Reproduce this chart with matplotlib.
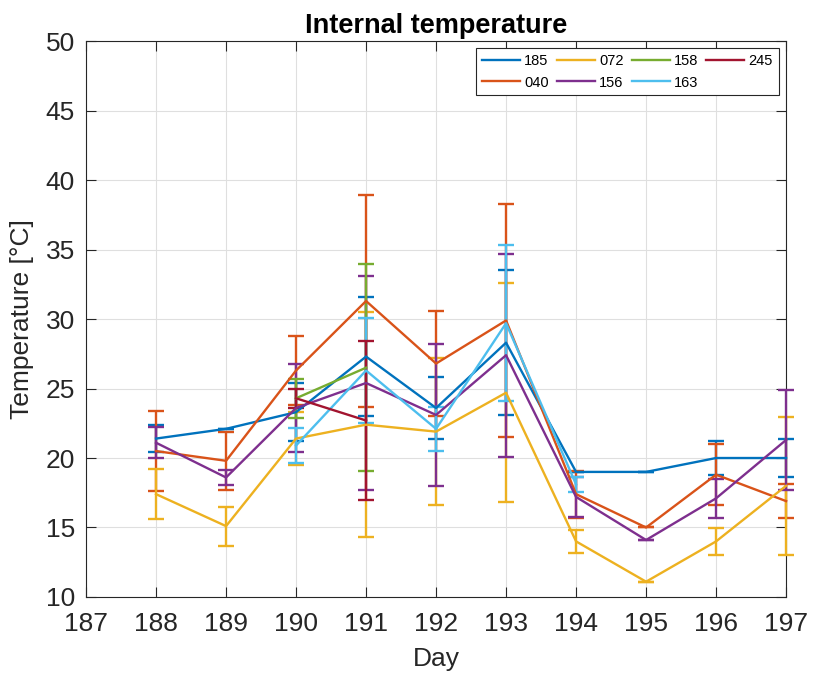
import numpy as np
import matplotlib
matplotlib.use("Agg")
import matplotlib.pyplot as plt
from matplotlib.lines import Line2D

nan = np.nan

# days and sensor series (mean and error half-width)
days = [188, 189, 190, 191, 192, 193, 194, 195, 196, 197]

t185 = [21.4, 22.1, 23.3, 27.3, 23.6, 28.3, 19.0, 19.0, 20.0, 20.0]
e185 = [0.95, 0.0, 2.1, 4.3, 2.2, 5.2, 0.0, 0.0, 1.2, 1.4]

t040 = [20.5, 19.8, 26.3, 31.3, 26.8, 29.9, 17.4, 15.0, 18.8, 16.9]
e040 = [2.9, 2.1, 2.5, 7.6, 3.8, 8.4, 1.7, 0.0, 2.2, 1.2]

t072 = [17.4, 15.1, 21.4, 22.4, 21.9, 24.7, 14.0, 11.1, 14.0, 18.0]
e072 = [1.8, 1.4, 1.9, 8.1, 5.3, 7.9, 0.85, 0.0, 0.95, 4.95]

t156 = [21.1, 18.6, 23.6, 25.4, 23.1, 27.4, 17.2, 14.1, 17.1, 21.3]
e156 = [1.1, 0.55, 3.2, 7.7, 5.1, 7.3, 1.45, 0.0, 1.4, 3.6]

t158 = [nan, nan, 24.3, 26.5, nan, nan, nan, nan, nan, nan]
e158 = [nan, nan, 1.4, 7.45, nan, nan, nan, nan, nan, nan]

t163 = [nan, nan, 20.9, 26.3, 22.1, 29.7, 18.1, nan, nan, nan]
e163 = [nan, nan, 1.25, 3.8, 1.6, 5.6, 0.55, nan, nan, nan]

t245 = [nan, nan, 24.3, 22.7, nan, nan, nan, nan, nan, nan]
e245 = [nan, nan, 0.7, 5.7, nan, nan, nan, nan, nan, nan]

series = [
    ("185", t185, e185, "#0072BD"),
    ("040", t040, e040, "#D95319"),
    ("072", t072, e072, "#EDB120"),
    ("156", t156, e156, "#7E2F8E"),
    ("158", t158, e158, "#77AC30"),
    ("163", t163, e163, "#4DBEEE"),
    ("245", t245, e245, "#A2142F"),
]

plt.rcParams['font.family'] = ['Liberation Sans', 'DejaVu Sans']

fig = plt.figure(figsize=(8.14, 6.75), dpi=100)
ax = fig.add_axes([0.1057, 0.1156, 0.86, 0.8234])

handles = []
for name, t, e, c in series:
    line, caps, bars = ax.errorbar(days, t, yerr=e, color=c, lw=1.7,
                                   elinewidth=1.7, capsize=6, capthick=1.7,
                                   zorder=3)
    for a in [line, *caps, *bars]:
        a.set_clip_on(False)
    handles.append(Line2D([], [], color=c, lw=1.7, label=name))

ax.set_xlim(187, 197)
ax.set_ylim(10, 50)
ax.set_xticks(range(187, 198))
ax.set_yticks(range(10, 51, 5))
ax.grid(True, color="#dfdfdf", lw=0.8)
ax.set_axisbelow(True)
ax.tick_params(direction="in", length=7, width=0.8, colors="#262626",
               labelsize=19, top=True, right=True)
ax.tick_params(axis="x", pad=11)
ax.tick_params(axis="y", pad=8)
for s in ax.spines.values():
    s.set_color("#262626")
    s.set_linewidth(0.8)

ax.set_xlabel("Day", fontsize=19, color="#262626", labelpad=8)
ax.set_ylabel("Temperature [°C]", fontsize=19, color="#262626", labelpad=8)
ax.set_title("Internal temperature", fontsize=19.5, fontweight="bold", pad=6)

leg = ax.legend(handles=handles, loc="upper right", ncol=4, fontsize=10.5,
                handlelength=2.6, columnspacing=0.55, handletextpad=0.3,
                borderaxespad=0.5, fancybox=False, edgecolor="#262626",
                framealpha=1)
leg.get_frame().set_linewidth(0.8)
leg.set_zorder(6)

fig.savefig("out.png", dpi=100)
